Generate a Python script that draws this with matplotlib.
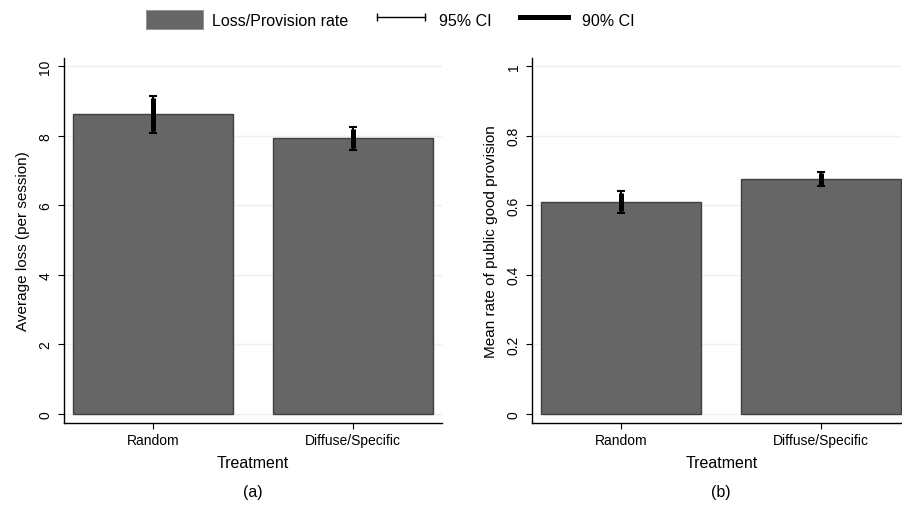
import matplotlib.pyplot as plt
from matplotlib.patches import Patch
from matplotlib.lines import Line2D

plt.rcParams['font.family'] = ['Liberation Sans', 'DejaVu Sans']

treatments = ['Random', 'Diffuse/Specific']

# panel (a): average loss per session
loss_mean = [8.62, 7.94]
loss_ci95_lo = [8.09, 7.59]
loss_ci95_hi = [9.14, 8.26]
loss_ci90_lo = [8.14, 7.65]
loss_ci90_hi = [9.09, 8.20]

# panel (b): mean rate of public good provision
prov_mean = [0.609, 0.675]
prov_ci95_lo = [0.578, 0.655]
prov_ci95_hi = [0.641, 0.696]
prov_ci90_lo = [0.583, 0.659]
prov_ci90_hi = [0.636, 0.692]

BAR = '#666666'
EDGE = '#3f3f3f'
GRID = '#eaf2f3'


def draw_panel(ax, means, lo95, hi95, lo90, hi90, ymax, yticks, ylabel, tag):
    x = [1, 2]
    ax.bar(x, means, width=0.8, color=BAR, edgecolor=EDGE, linewidth=1, zorder=2)
    err95 = [[m - l for m, l in zip(means, lo95)], [h - m for m, h in zip(means, hi95)]]
    err90 = [[m - l for m, l in zip(means, lo90)], [h - m for m, h in zip(means, hi90)]]
    ax.errorbar(x, means, yerr=err95, fmt='none', ecolor='black', elinewidth=1.5,
                capsize=3, capthick=1.5, zorder=3)
    ax.errorbar(x, means, yerr=err90, fmt='none', ecolor='black', elinewidth=3.6,
                capsize=0, zorder=4)
    ax.set_xlim(0.555, 2.445)
    ax.set_ylim(-ymax * 0.026, ymax * 1.024)
    ax.set_yticks(yticks)
    ax.set_yticklabels([f'{t:g}' for t in yticks], rotation=90, va='center')
    ax.set_xticks(x)
    ax.set_xticklabels(treatments)
    ax.tick_params(axis='both', length=4.3, width=0.8, labelsize=10, pad=3)
    ax.tick_params(axis='y', pad=4)
    ax.grid(axis='y', color=GRID, linewidth=1, zorder=0)
    ax.set_axisbelow(True)
    for s in ['top', 'right']:
        ax.spines[s].set_visible(False)
    for s in ['left', 'bottom']:
        ax.spines[s].set_linewidth(1)
    ax.set_xlabel('Treatment', fontsize=11.5, labelpad=6)
    ax.set_ylabel(ylabel, fontsize=11, labelpad=6)
    pos = ax.get_position()
    fig.text(pos.x0 + pos.width / 2, 1 - 493 / 506, tag, ha='center', va='center', fontsize=11.5)


fig = plt.figure(figsize=(9.03, 5.06), dpi=100)
ax1 = fig.add_axes([64 / 903, 82.3 / 506, 378 / 903, 364.7 / 506])
ax2 = fig.add_axes([532.3 / 903, 82.3 / 506, 378 / 903, 364.7 / 506])

draw_panel(ax1, loss_mean, loss_ci95_lo, loss_ci95_hi, loss_ci90_lo, loss_ci90_hi,
           10, [0, 2, 4, 6, 8, 10], 'Average loss (per session)', '(a)')
draw_panel(ax2, prov_mean, prov_ci95_lo, prov_ci95_hi, prov_ci90_lo, prov_ci90_hi,
           1, [0, 0.2, 0.4, 0.6, 0.8, 1], 'Mean rate of public good provision', '(b)')

handles = [
    Patch(facecolor=BAR, edgecolor='#888888', linewidth=0.5),
    Line2D([0], [0], color='black', linewidth=1, marker='|', markersize=6, markeredgewidth=1),
    Line2D([0], [0], color='black', linewidth=3.6),
]
fig.legend(handles, ['Loss/Provision rate', '95% CI', '90% CI'], loc='center',
           bbox_to_anchor=(390 / 903, 1 - 20.7 / 506), ncol=3, frameon=False,
           fontsize=11.5, handlelength=3.6, handleheight=1.5, handletextpad=0.55,
           columnspacing=1.5, numpoints=2)

fig.savefig('out.png', dpi=100)
